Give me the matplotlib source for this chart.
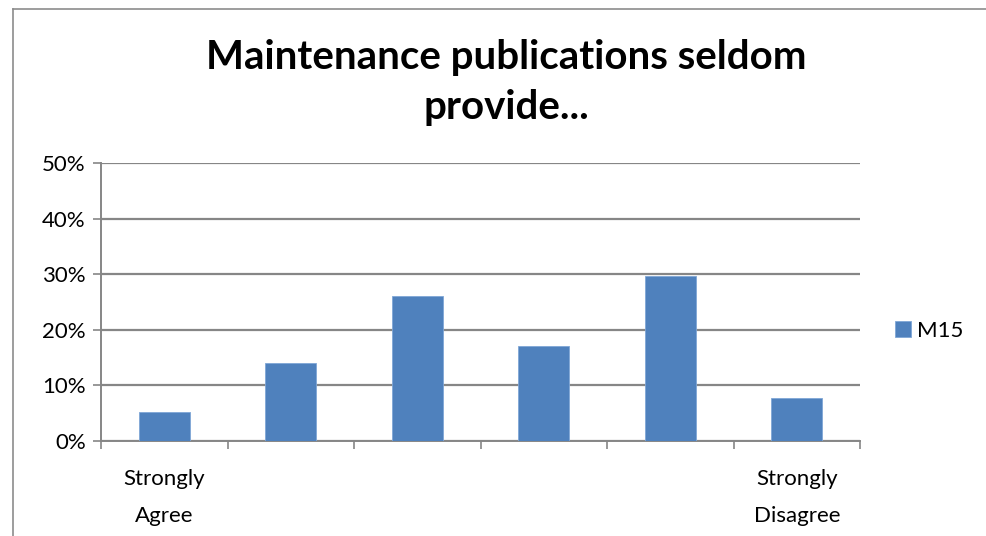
import matplotlib
matplotlib.use("Agg")
import matplotlib.pyplot as plt
from matplotlib.lines import Line2D
from matplotlib.ticker import FuncFormatter

categories = ["Strongly\nAgree", "", "", "", "", "Strongly\nDisagree"]
values = [5.3, 14.0, 26.1, 17.0, 29.7, 7.7]
series_name = "M15"
yticks = [0, 10, 20, 30, 40, 50]

plt.rcParams['font.family'] = ['Lato', 'DejaVu Sans']

fig = plt.figure(figsize=(9.86, 5.36), dpi=100)
fig.patch.set_facecolor("white")

# outer chart border (top and left edges visible)
bx, by = 13/986, 1 - 9/536
fig.add_artist(Line2D([bx, 1.0], [by, by], transform=fig.transFigure,
                      color="#8c8c8c", linewidth=1.2))
fig.add_artist(Line2D([bx, bx], [0.0, by], transform=fig.transFigure,
                      color="#8c8c8c", linewidth=1.2))

ax = fig.add_axes([101/986, 95/536, 759/986, 278/536])
x = [i + 0.5 for i in range(len(values))]
ax.bar(x, values, width=0.4, color="#4F81BD", edgecolor="#7FA6D6",
       linewidth=0.6, label=series_name, zorder=3)

ax.set_xlim(0, len(values))
ax.set_ylim(0, 50)
ax.set_yticks(yticks)
ax.yaxis.set_major_formatter(FuncFormatter(lambda v, p: f"{v:.0f}%"))
ax.grid(axis="y", color="#868686", linewidth=1.6, zorder=0)
ax.set_axisbelow(True)

ax.set_xticks(range(len(values) + 1))
ax.set_xticklabels([])
ax.set_xticks(x, minor=True)
ax.set_xticklabels(categories, minor=True, fontsize=16, linespacing=2.1)
ax.tick_params(axis="x", which="minor", length=0, pad=20)
ax.tick_params(axis="x", which="major", length=6, width=1.2, color="#868686", direction="out")
ax.tick_params(axis="y", length=6, width=1.2, color="#868686", labelsize=16, pad=5)

for s in ["top", "right"]:
    ax.spines[s].set_visible(False)
for s in ["left", "bottom"]:
    ax.spines[s].set_color("#868686")
    ax.spines[s].set_linewidth(1.4)

fig.text(506/986, 1 - 58/536, "Maintenance publications seldom", ha="center", va="center",
         fontsize=29, fontweight="bold")
fig.text(506/986, 1 - 108/536, "provide...", ha="center", va="center",
         fontsize=29, fontweight="bold")

leg = ax.legend(loc="center left", bbox_to_anchor=(1.02, 0.396), frameon=False,
                fontsize=16, handlelength=0.7, handleheight=0.7, handletextpad=0.3)

fig.savefig("out.png", dpi=100, facecolor="white")
